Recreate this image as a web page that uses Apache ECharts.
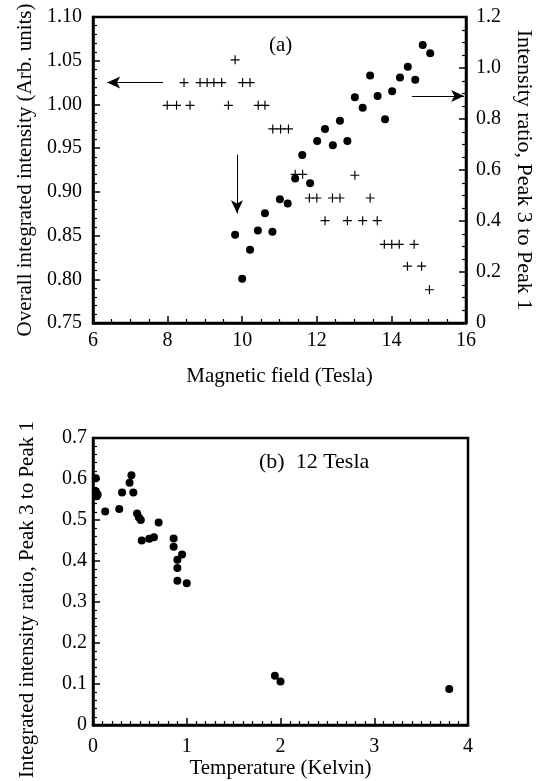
<!DOCTYPE html>
<html>
<head>
<meta charset="utf-8">
<script src="https://cdn.jsdelivr.net/npm/echarts@6/dist/echarts.min.js"></script>
<style>
  html, body { margin: 0; padding: 0; background: #fff; }
  #chart { width: 545px; height: 781px; }
</style>
</head>
<body>
<div id="chart"></div>
<script>
// (a) Overall integrated intensity (crosses) vs magnetic field
const fieldForIntensity = [
  9.81,
  8.44, 8.87, 9.06, 9.24, 9.45, 10.01, 10.21,
  7.99, 8.24, 8.60, 9.63, 10.43, 10.61,
  10.82, 11.03, 11.24,
  11.42, 11.62, 13.02,
  11.80, 12.00, 12.42, 12.62, 13.43,
  12.22, 12.82, 13.23, 13.62,
  13.81, 14.01, 14.21, 14.61,
  14.43, 14.81,
  15.02
];
const overallIntensity = [
  1.051,
  1.025, 1.025, 1.025, 1.025, 1.025, 1.025, 1.025,
  0.999, 0.999, 0.999, 0.999, 0.999, 0.999,
  0.972, 0.972, 0.972,
  0.920, 0.920, 0.919,
  0.893, 0.893, 0.893, 0.893, 0.893,
  0.867, 0.867, 0.867, 0.867,
  0.840, 0.840, 0.840, 0.840,
  0.815, 0.815,
  0.788
];

// (a) Intensity ratio Peak 3 / Peak 1 (dots) vs magnetic field
const fieldForRatio = [
  9.81, 10.00, 10.21, 10.42, 10.61, 10.81, 11.01, 11.22, 11.42, 11.61,
  11.82, 12.01, 12.22, 12.43, 12.62, 12.82, 13.02, 13.23, 13.43, 13.63,
  13.83, 14.02, 14.23, 14.44, 14.64, 14.84, 15.04
];
const ratioVsField = [
  0.346, 0.174, 0.287, 0.363, 0.430, 0.358, 0.485, 0.469, 0.567, 0.659,
  0.548, 0.714, 0.761, 0.697, 0.793, 0.714, 0.885, 0.844, 0.971, 0.890,
  0.799, 0.909, 0.963, 1.005, 0.954, 1.090, 1.058
];

// (b) Ratio vs temperature at 12 Tesla
const temperature = [
  0.03, 0.03, 0.05, 0.04, 0.13, 0.28, 0.31, 0.39, 0.41, 0.43,
  0.47, 0.49, 0.51, 0.52, 0.60, 0.65, 0.70, 0.86, 0.86, 0.90,
  0.90, 0.95, 0.90, 1.00, 1.94, 2.00, 3.80
];
const ratioVsTemperature = [
  0.602, 0.570, 0.562, 0.558, 0.521, 0.527, 0.567, 0.591, 0.609, 0.567,
  0.516, 0.506, 0.500, 0.450, 0.454, 0.458, 0.494, 0.455, 0.435, 0.403,
  0.383, 0.416, 0.352, 0.346, 0.120, 0.106, 0.088
];

// Pointer arrows in panel (a): [x0, y0, x1, y1], arrowhead at the second point
const arrowToLeftAxis = [7.88, 1.025, 6.38, 1.025];
const arrowToRightAxis = [14.55, 0.89, 15.95, 0.89];
const arrowDown = [9.86, 0.66, 9.86, 0.43];

const SERIF = '"Liberation Serif", "DejaVu Serif", serif';
const INK = '#000';
const TICK_FONT = 20;
const NAME_FONT = 21;

function zip(xs, ys) { return xs.map((x, i) => [x, ys[i]]); }

function arrowLine(a) {
  return [
    { coord: [a[0], a[1]], symbol: 'none' },
    { coord: [a[2], a[3]], symbol: 'arrow', symbolSize: [9, 13] }
  ];
}

const PLUS = 'path://M4.35,0 h1.3 v4.35 h4.35 v1.3 h-4.35 v4.35 h-1.3 v-4.35 h-4.35 v-1.3 h4.35 z';

function minor(n) {
  return { show: true, splitNumber: n, length: 4, lineStyle: { color: INK, width: 1.2 } };
}
function labels(margin, formatter) {
  const l = { color: INK, fontFamily: SERIF, fontSize: TICK_FONT, margin: margin };
  if (formatter) l.formatter = formatter;
  return l;
}
const oneDecimal = v => v === 0 ? '0' : v.toFixed(1);

function valueAxis(opts) {
  return Object.assign({
    type: 'value',
    axisLine: { show: true, onZero: false, lineStyle: { color: INK, width: 2.5 } },
    axisTick: { show: true, inside: true, length: 7, lineStyle: { color: INK, width: 1.5 } },
    splitLine: { show: false },
    minorSplitLine: { show: false },
    nameTextStyle: { color: INK, fontFamily: SERIF, fontSize: NAME_FONT },
    nameLocation: 'middle'
  }, opts);
}

const chart = echarts.init(document.getElementById('chart'), null, { renderer: 'canvas' });

chart.setOption({
  animation: false,
  backgroundColor: '#fff',
  grid: [
    { left: 93, top: 17, width: 373, height: 306, containLabel: false, outerBoundsMode: 'none',
      show: true, borderColor: INK, borderWidth: 2.5, backgroundColor: 'transparent' },
    { left: 93, top: 438, width: 375, height: 287, containLabel: false, outerBoundsMode: 'none',
      show: true, borderColor: INK, borderWidth: 2.5, backgroundColor: 'transparent' }
  ],
  xAxis: [
    valueAxis({
      gridIndex: 0, min: 6, max: 16, interval: 2,
      minorTick: minor(4),
      axisLabel: labels(8),
      name: 'Magnetic field (Tesla)', nameGap: 43
    }),
    valueAxis({
      gridIndex: 1, min: 0, max: 4, interval: 1,
      minorTick: minor(10),
      axisLabel: labels(12),
      name: 'Temperature (Kelvin)', nameGap: 31
    })
  ],
  yAxis: [
    valueAxis({
      gridIndex: 0, min: 0.75, max: 1.10, interval: 0.05, position: 'left',
      minorTick: minor(5),
      axisLabel: labels(11, v => v.toFixed(2)),
      name: 'Overall integrated intensity (Arb. units)', nameGap: 55
    }),
    valueAxis({
      gridIndex: 0, min: 0, max: 1.2, interval: 0.2, position: 'right',
      minorTick: minor(4),
      axisLabel: labels(10, oneDecimal),
      name: 'Intensity ratio, Peak 3 to Peak 1', nameGap: 47, nameRotate: -90,
      nameTextStyle: { color: INK, fontFamily: SERIF, fontSize: 22 }
    }),
    valueAxis({
      gridIndex: 1, min: 0, max: 0.7, interval: 0.1, position: 'left',
      minorTick: minor(5),
      axisLabel: labels(6, oneDecimal),
      name: 'Integrated intensity ratio, Peak 3 to Peak 1', nameGap: 55,
      nameTextStyle: { color: INK, fontFamily: SERIF, fontSize: NAME_FONT, padding: [0, 36, 0, 0] }
    })
  ],
  series: [
    {
      name: 'Overall integrated intensity',
      type: 'scatter', xAxisIndex: 0, yAxisIndex: 0,
      symbol: PLUS, symbolSize: 9,
      itemStyle: { color: INK, opacity: 1 },
      data: zip(fieldForIntensity, overallIntensity),
      markLine: {
        silent: true, animation: false,
        label: { show: false },
        lineStyle: { color: INK, width: 1, type: 'solid' },
        data: [arrowLine(arrowToLeftAxis)]
      }
    },
    {
      name: 'Intensity ratio vs field',
      type: 'scatter', xAxisIndex: 0, yAxisIndex: 1,
      symbol: 'circle', symbolSize: 8,
      itemStyle: { color: INK, opacity: 1 },
      data: zip(fieldForRatio, ratioVsField),
      markLine: {
        silent: true, animation: false,
        label: { show: false },
        lineStyle: { color: INK, width: 1, type: 'solid' },
        data: [arrowLine(arrowToRightAxis), arrowLine(arrowDown)]
      }
    },
    {
      name: 'Intensity ratio vs temperature',
      type: 'scatter', xAxisIndex: 1, yAxisIndex: 2,
      symbol: 'circle', symbolSize: 8,
      itemStyle: { color: INK, opacity: 1 },
      data: zip(temperature, ratioVsTemperature)
    }
  ],
  graphic: [
    { type: 'text', left: 269, top: 35, style: { text: '(a)', font: '21px ' + SERIF, fill: INK } },
    { type: 'text', left: 259, top: 451, style: { text: '(b)  12 Tesla', font: '22px ' + SERIF, fill: INK } }
  ]
});
</script>
</body>
</html>
